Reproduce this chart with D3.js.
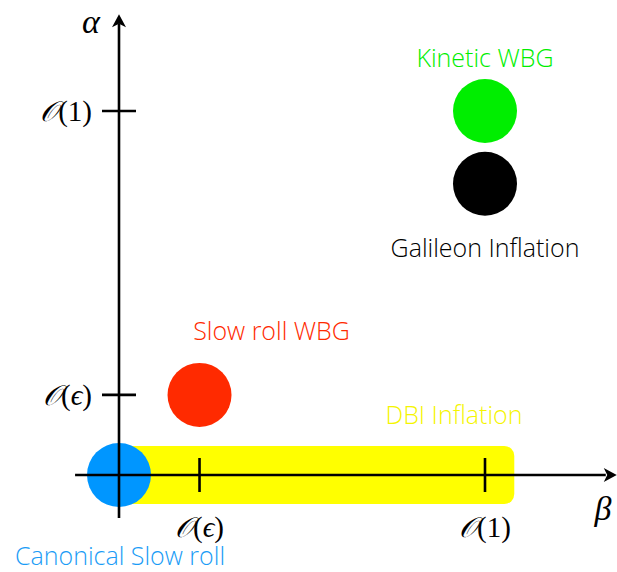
<!DOCTYPE html>
<html>
<head>
<meta charset="utf-8">
<script src="https://cdn.jsdelivr.net/npm/d3@7"></script>
<style>
  body { margin: 0; background: #fff; }
  .lbl { font-family: "Open Sans", Roboto, "Liberation Sans", sans-serif; font-weight: 300; font-size: 25px; }
  .math { font-family: "Liberation Serif", "DejaVu Serif", serif; }
</style>
</head>
<body>
<div id="chart"></div>
<script>
  'use strict';

  // order-of-magnitude levels, in the abstract units of the diagram
  var eps = 0.22;
  var tickNames = ["ε", "1"];
  var tickValues = [eps, 1];

  // models placed in the (beta, alpha) plane
  var models = ["Canonical Slow roll", "Slow roll WBG", "Kinetic WBG", "Galileon Inflation"];
  var modelBeta = [0, eps, 1, 1];
  var modelAlpha = [0, eps, 1, 0.8];
  var modelColors = ["#0096ff", "#ff2a00", "#00ee00", "#000000"];

  // DBI band along the beta axis
  var bandName = "DBI Inflation";
  var bandBeta = [0, 1.08];
  var bandAlpha = [-0.08, 0.08];

  var w = 617;
  var h = 572;

  var x = d3.scaleLinear().domain([0, 1]).range([119, 485]);
  var y = d3.scaleLinear().domain([0, 1]).range([475, 111]);

  var svg = d3.select("#chart").append("svg")
    .attr("width", w)
    .attr("height", h);

  var axisWidth = 2.6;
  var tickHalf = 17;
  var dotRadius = 32;

  // DBI band
  svg.append("rect")
    .attr("x", x(bandBeta[0]))
    .attr("y", y(bandAlpha[1]))
    .attr("width", x(bandBeta[1]) - x(bandBeta[0]))
    .attr("height", y(bandAlpha[0]) - y(bandAlpha[1]))
    .attr("rx", 10)
    .attr("ry", 10)
    .attr("fill", "#ffff00");

  // dots
  svg.selectAll("circle.model")
    .data(models)
    .enter()
    .append("circle")
    .attr("class", "model")
    .attr("cx", function (d, i) { return x(modelBeta[i]); })
    .attr("cy", function (d, i) { return y(modelAlpha[i]); })
    .attr("r", dotRadius)
    .attr("fill", function (d, i) { return modelColors[i]; });

  // axes
  var axes = svg.append("g")
    .attr("stroke", "#000")
    .attr("stroke-width", axisWidth)
    .attr("fill", "none");

  axes.append("line")
    .attr("x1", x(-0.12)).attr("x2", x(1.33))
    .attr("y1", y(0)).attr("y2", y(0));
  axes.append("line")
    .attr("x1", x(0)).attr("x2", x(0))
    .attr("y1", y(-0.118)).attr("y2", y(1.24));

  // arrow heads
  var head = "M0,0 L-13,-7 L-9.5,0 L-13,7 Z";
  svg.append("path")
    .attr("d", head)
    .attr("transform", "translate(" + x(1.36) + "," + y(0) + ")")
    .attr("fill", "#000");
  svg.append("path")
    .attr("d", head)
    .attr("transform", "translate(" + x(0) + "," + y(1.266) + ") rotate(-90)")
    .attr("fill", "#000");

  // ticks
  axes.selectAll("line.xtick")
    .data(tickValues)
    .enter()
    .append("line")
    .attr("class", "xtick")
    .attr("x1", function (d) { return x(d); })
    .attr("x2", function (d) { return x(d); })
    .attr("y1", y(0) - tickHalf)
    .attr("y2", y(0) + tickHalf);

  axes.selectAll("line.ytick")
    .data(tickValues)
    .enter()
    .append("line")
    .attr("class", "ytick")
    .attr("x1", x(0) - tickHalf)
    .attr("x2", x(0) + tickHalf)
    .attr("y1", function (d) { return y(d); })
    .attr("y2", function (d) { return y(d); });

  function orderLabel(sel, name) {
    sel.append("tspan").attr("font-family", "DejaVu Serif").attr("font-style", "italic").attr("font-size", 28).text("𝒪");
    sel.append("tspan").text("(");
    sel.append("tspan").attr("font-style", name === "ε" ? "italic" : "normal").text(name === "ε" ? "ϵ" : name);
    sel.append("tspan").text(")");
  }

  tickNames.forEach(function (name, i) {
    var tx = svg.append("text")
      .attr("class", "math")
      .attr("font-size", 29)
      .attr("text-anchor", "middle")
      .attr("x", x(tickValues[i]))
      .attr("y", y(0) + 62);
    orderLabel(tx, name);

    var ty = svg.append("text")
      .attr("class", "math")
      .attr("font-size", 29)
      .attr("text-anchor", "end")
      .attr("x", x(0) - 27)
      .attr("y", y(tickValues[i]) + 10);
    orderLabel(ty, name);
  });

  // axis names
  svg.append("text")
    .attr("class", "math")
    .attr("font-style", "italic")
    .attr("font-size", 34)
    .attr("text-anchor", "middle")
    .attr("x", 91)
    .attr("y", 33)
    .text("α");
  svg.append("text")
    .attr("class", "math")
    .attr("font-style", "italic")
    .attr("font-size", 34)
    .attr("text-anchor", "middle")
    .attr("x", 603)
    .attr("y", 520)
    .text("β");

  // model labels (baseline offsets from each dot)
  var labelDx = [1, 72, 0, 0];
  var labelDy = [90, -55, -44, 73];
  var labelColors = ["#1a9cf6", "#ff2a00", "#00ee00", "#000000"];

  svg.selectAll("text.model")
    .data(models)
    .enter()
    .append("text")
    .attr("class", "lbl model")
    .attr("text-anchor", "middle")
    .attr("x", function (d, i) { return x(modelBeta[i]) + labelDx[i]; })
    .attr("y", function (d, i) { return y(modelAlpha[i]) + labelDy[i]; })
    .attr("fill", function (d, i) { return labelColors[i]; })
    .text(function (d) { return d; });

  svg.append("text")
    .attr("class", "lbl")
    .attr("text-anchor", "middle")
    .attr("x", 454)
    .attr("y", 424)
    .attr("fill", "#f5f500")
    .text(bandName);
</script>
</body>
</html>
